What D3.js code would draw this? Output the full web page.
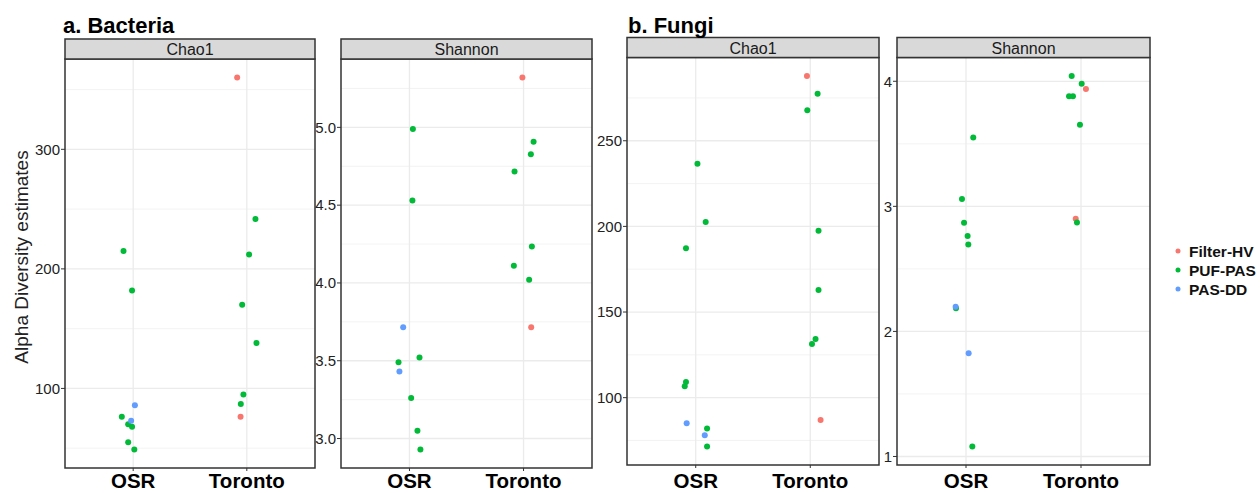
<!DOCTYPE html>
<html>
<head>
<meta charset="utf-8">
<script src="https://cdn.jsdelivr.net/npm/d3@7"></script>
<style>
  body { margin: 0; background: #fff; }
  text { font-family: "Liberation Sans", Arial, sans-serif; }
</style>
</head>
<body>
<div id="chart"></div>
<script>
var sites = ["OSR", "Toronto"];
var groups = ["Filter-HV", "PUF-PAS", "PAS-DD"];
var groupColors = ["#F8766D", "#00BA38", "#619CFF"];

// rows: [site, group, value, jitter (in category units)]
var bacteriaChao1 = [
    ["Toronto", "Filter-HV", 360, -0.085],
    ["Toronto", "Filter-HV", 76.4, -0.055],
    ["OSR", "PUF-PAS", 215, -0.085],
    ["OSR", "PUF-PAS", 182, -0.01],
    ["OSR", "PUF-PAS", 76.4, -0.10],
    ["OSR", "PUF-PAS", 70, -0.044],
    ["OSR", "PUF-PAS", 68, -0.01],
    ["OSR", "PUF-PAS", 55, -0.044],
    ["OSR", "PUF-PAS", 49, 0.01],
    ["Toronto", "PUF-PAS", 241.7, 0.076],
    ["Toronto", "PUF-PAS", 212, 0.02],
    ["Toronto", "PUF-PAS", 170, -0.041],
    ["Toronto", "PUF-PAS", 138, 0.085],
    ["Toronto", "PUF-PAS", 95, -0.03],
    ["Toronto", "PUF-PAS", 87, -0.053],
    ["OSR", "PAS-DD", 86, 0.015],
    ["OSR", "PAS-DD", 73, -0.018]
];
var bacteriaShannon = [
    ["Toronto", "Filter-HV", 5.32, -0.01],
    ["Toronto", "Filter-HV", 3.716, 0.067],
    ["OSR", "PUF-PAS", 4.99, 0.03],
    ["OSR", "PUF-PAS", 4.53, 0.026],
    ["OSR", "PUF-PAS", 3.49, -0.096],
    ["OSR", "PUF-PAS", 3.52, 0.088],
    ["OSR", "PUF-PAS", 3.26, 0.015],
    ["OSR", "PUF-PAS", 3.05, 0.07],
    ["OSR", "PUF-PAS", 2.93, 0.096],
    ["Toronto", "PUF-PAS", 4.908, 0.088],
    ["Toronto", "PUF-PAS", 4.827, 0.064],
    ["Toronto", "PUF-PAS", 4.716, -0.079],
    ["Toronto", "PUF-PAS", 4.235, 0.073],
    ["Toronto", "PUF-PAS", 4.11, -0.085],
    ["Toronto", "PUF-PAS", 4.02, 0.049],
    ["OSR", "PAS-DD", 3.716, -0.055],
    ["OSR", "PAS-DD", 3.43, -0.088]
];
var fungiChao1 = [
    ["Toronto", "Filter-HV", 287.8, -0.029],
    ["Toronto", "Filter-HV", 87, 0.09],
    ["OSR", "PUF-PAS", 236.6, 0.015],
    ["OSR", "PUF-PAS", 202.5, 0.087],
    ["OSR", "PUF-PAS", 187.2, -0.085],
    ["OSR", "PUF-PAS", 109.1, -0.085],
    ["OSR", "PUF-PAS", 106.6, -0.096],
    ["OSR", "PUF-PAS", 82, 0.099],
    ["OSR", "PUF-PAS", 71.5, 0.099],
    ["Toronto", "PUF-PAS", 277.5, 0.064],
    ["Toronto", "PUF-PAS", 267.8, -0.026],
    ["Toronto", "PUF-PAS", 197.5, 0.072],
    ["Toronto", "PUF-PAS", 162.8, 0.072],
    ["Toronto", "PUF-PAS", 134.3, 0.046],
    ["Toronto", "PUF-PAS", 131.4, 0.015],
    ["OSR", "PAS-DD", 85.1, -0.079],
    ["OSR", "PAS-DD", 78.1, 0.079]
];
var fungiShannon = [
    ["Toronto", "Filter-HV", 3.939, 0.043],
    ["Toronto", "Filter-HV", 2.9, -0.046],
    ["OSR", "PUF-PAS", 3.551, 0.063],
    ["OSR", "PUF-PAS", 3.059, -0.035],
    ["OSR", "PUF-PAS", 2.868, -0.017],
    ["OSR", "PUF-PAS", 2.762, 0.014],
    ["OSR", "PUF-PAS", 2.695, 0.02],
    ["OSR", "PUF-PAS", 2.186, -0.087],
    ["OSR", "PUF-PAS", 1.08, 0.055],
    ["Toronto", "PUF-PAS", 4.042, -0.081],
    ["Toronto", "PUF-PAS", 3.981, 0.006],
    ["Toronto", "PUF-PAS", 3.88, -0.104],
    ["Toronto", "PUF-PAS", 3.88, -0.07],
    ["Toronto", "PUF-PAS", 3.652, -0.009],
    ["Toronto", "PUF-PAS", 2.87, -0.035],
    ["OSR", "PAS-DD", 2.197, -0.09],
    ["OSR", "PAS-DD", 1.825, 0.023]
];

var bacteriaChao1Ticks = [100, 200, 300];
var bacteriaShannonTicks = [3.0, 3.5, 4.0, 4.5, 5.0];
var fungiChao1Ticks = [100, 150, 200, 250];
var fungiShannonTicks = [1, 2, 3, 4];

var width = 1260, height = 493;

var svg = d3.select("#chart").append("svg")
    .attr("width", width)
    .attr("height", height);

var color = d3.scaleOrdinal().domain(groups).range(groupColors);

var panels = [
    { data: bacteriaChao1, ticks: bacteriaChao1Ticks, fmt: d3.format("d"), strip: "Chao1",
      x0: 65, x1: 315, top: 39, bottom: 468 },
    { data: bacteriaShannon, ticks: bacteriaShannonTicks, fmt: d3.format(".1f"), strip: "Shannon",
      x0: 341, x1: 592, top: 39, bottom: 468 },
    { data: fungiChao1, ticks: fungiChao1Ticks, fmt: d3.format("d"), strip: "Chao1",
      x0: 627, x1: 879, top: 37.5, bottom: 465 },
    { data: fungiShannon, ticks: fungiShannonTicks, fmt: d3.format("d"), strip: "Shannon",
      x0: 897, x1: 1150, top: 37.5, bottom: 465 }
];

var stripH = 20;

panels.forEach(function (p) {
    var plotTop = p.top + stripH;
    var ext = d3.extent(p.data, function (d) { return d[2]; });
    var pad = (ext[1] - ext[0]) * 0.05;

    var y = d3.scaleLinear()
        .domain([ext[0] - pad, ext[1] + pad])
        .range([p.bottom, plotTop]);

    // discrete positions 1, 2 with ggplot's 0.6 expansion
    var x = d3.scaleLinear()
        .domain([0.4, 2.6])
        .range([p.x0, p.x1]);

    var g = svg.append("g");

    // minor grid (midpoints between major ticks)
    var step = p.ticks[1] - p.ticks[0];
    var minor = [];
    for (var k = -1; k < p.ticks.length; k++) {
        var v = p.ticks[0] + (k + 0.5) * step;
        if (v > y.domain()[0] && v < y.domain()[1]) minor.push(v);
    }
    g.selectAll(".minor").data(minor).enter().append("line")
        .attr("x1", p.x0).attr("x2", p.x1)
        .attr("y1", function (d) { return y(d); })
        .attr("y2", function (d) { return y(d); })
        .attr("stroke", "#F0F0F0").attr("stroke-width", 0.8);

    g.selectAll(".major").data(p.ticks).enter().append("line")
        .attr("x1", p.x0).attr("x2", p.x1)
        .attr("y1", function (d) { return y(d); })
        .attr("y2", function (d) { return y(d); })
        .attr("stroke", "#EBEBEB").attr("stroke-width", 1.3);

    g.selectAll(".vgrid").data(sites).enter().append("line")
        .attr("x1", function (d, i) { return x(i + 1); })
        .attr("x2", function (d, i) { return x(i + 1); })
        .attr("y1", plotTop).attr("y2", p.bottom)
        .attr("stroke", "#EBEBEB").attr("stroke-width", 1.3);

    // points
    g.selectAll(".pt").data(p.data).enter().append("circle")
        .attr("cx", function (d) { return x(sites.indexOf(d[0]) + 1 + d[3]); })
        .attr("cy", function (d) { return y(d[2]); })
        .attr("r", 3)
        .attr("fill", function (d) { return color(d[1]); });

    // panel border
    g.append("rect")
        .attr("x", p.x0).attr("y", plotTop)
        .attr("width", p.x1 - p.x0).attr("height", p.bottom - plotTop)
        .attr("fill", "none").attr("stroke", "#333").attr("stroke-width", 1.5);

    // strip
    g.append("rect")
        .attr("x", p.x0).attr("y", p.top)
        .attr("width", p.x1 - p.x0).attr("height", stripH)
        .attr("fill", "#D9D9D9").attr("stroke", "#333").attr("stroke-width", 1.5);
    g.append("text")
        .attr("x", (p.x0 + p.x1) / 2).attr("y", p.top + 16)
        .attr("text-anchor", "middle")
        .attr("font-size", 16).attr("fill", "#1a1a1a")
        .text(p.strip);

    // y ticks
    var yt = g.selectAll(".yt").data(p.ticks).enter().append("g")
        .attr("transform", function (d) { return "translate(" + p.x0 + "," + y(d) + ")"; });
    yt.append("line").attr("x1", -4).attr("x2", 0).attr("stroke", "#333").attr("stroke-width", 1);
    yt.append("text")
        .attr("x", -5).attr("dy", "0.35em")
        .attr("text-anchor", "end")
        .attr("font-size", 15).attr("fill", "#222")
        .text(p.fmt);

    // x ticks + labels
    var xt = g.selectAll(".xt").data(sites).enter().append("g")
        .attr("transform", function (d, i) { return "translate(" + x(i + 1) + "," + p.bottom + ")"; });
    xt.append("line").attr("y1", 0).attr("y2", 3).attr("stroke", "#333").attr("stroke-width", 1);
    xt.append("text")
        .attr("y", 488 - p.bottom)
        .attr("text-anchor", "middle")
        .attr("font-size", 20.5).attr("font-weight", "bold").attr("fill", "#000")
        .text(function (d) { return d; });
});

// panel titles
svg.append("text").attr("x", 63).attr("y", 33)
    .attr("font-size", 22).attr("font-weight", "bold").text("a. Bacteria");
svg.append("text").attr("x", 628).attr("y", 33)
    .attr("font-size", 22).attr("font-weight", "bold").text("b. Fungi");

// y axis title
svg.append("text")
    .attr("transform", "translate(28,257) rotate(-90)")
    .attr("text-anchor", "middle")
    .attr("font-size", 19).attr("fill", "#222")
    .text("Alpha Diversity estimates");

// legend
var legend = svg.selectAll(".legend").data(groups).enter().append("g")
    .attr("transform", function (d, i) { return "translate(1178," + (251 + i * 19) + ")"; });
legend.append("circle").attr("r", 2.5).attr("fill", function (d) { return color(d); });
legend.append("text")
    .attr("x", 11).attr("dy", "0.36em")
    .attr("font-size", 15.5).attr("font-weight", "bold").attr("fill", "#111")
    .text(function (d) { return d; });
</script>
</body>
</html>
